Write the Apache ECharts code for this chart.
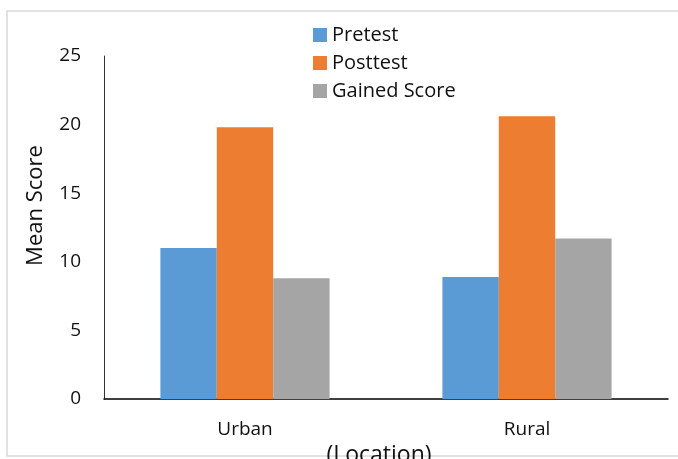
<!DOCTYPE html>
<html lang="en">
  <head>
    <meta charset="UTF-8" />
    <title>Mean Score by Location</title>
    <script src="https://cdn.jsdelivr.net/npm/echarts@6/dist/echarts.min.js"></script>
  </head>
  <body style="margin: 0; background: #fff">
    <div id="container" style="width: 678px; height: 459px"></div>
    <script>
      // data
      const locations = ["Urban", "Rural"];
      const pretest = [11.0, 8.9];
      const posttest = [19.8, 20.6];
      const gained = [8.8, 11.7];
      const yTicks = [0, 5, 10, 15, 20, 25];

      const font = "'Open Sans', 'Liberation Sans', sans-serif";
      let myChart = echarts.init(document.getElementById("container"));

      function bar(name, data, color) {
        return {
          name: name,
          type: "bar",
          data: data,
          barGap: "0%",
          barCategoryGap: "40%",
          itemStyle: { color: color },
          emphasis: { disabled: true }
        };
      }

      let option = {
        animation: false,
        textStyle: { fontFamily: font },
        graphic: [
          {
            type: "rect",
            shape: { x: 7, y: 11, width: 700, height: 445 },
            style: { fill: "none", stroke: "#d9d9d9", lineWidth: 1.5 },
            silent: true
          }
        ],
        legend: {
          orient: "vertical",
          left: 308,
          top: 20,
          itemWidth: 14,
          itemHeight: 14,
          itemGap: 8,
          icon: "rect",
          textStyle: { fontSize: 20, color: "#111", fontFamily: font },
          data: ["Pretest", "Posttest", "Gained Score"]
        },
        grid: {
          left: 104,
          right: 10,
          top: 56,
          bottom: 60,
          containLabel: false,
          outerBoundsMode: "none"
        },
        xAxis: {
          type: "category",
          data: locations,
          name: "(Location)",
          nameLocation: "middle",
          nameGap: 36,
          nameTextStyle: { fontSize: 23, color: "#111", padding: [0, 14, 0, 0] },
          axisLine: { lineStyle: { color: "#000", width: 1.5 } },
          axisTick: { show: false },
          axisLabel: { fontSize: 19, color: "#111", margin: 21 }
        },
        yAxis: {
          type: "value",
          min: yTicks[0],
          max: yTicks[yTicks.length - 1],
          interval: 5,
          name: "Mean Score",
          nameLocation: "middle",
          nameGap: 57,
          nameTextStyle: { fontSize: 22, color: "#111", padding: [0, 0, 0, 44] },
          axisLine: { show: true, lineStyle: { color: "#333", width: 1 } },
          axisTick: { show: false },
          splitLine: { show: false },
          axisLabel: { fontSize: 19, color: "#111", margin: 23 }
        },
        series: [
          bar("Pretest", pretest, "#5B9BD5"),
          bar("Posttest", posttest, "#ED7D31"),
          bar("Gained Score", gained, "#A5A5A5")
        ]
      };
      myChart.setOption(option);
    </script>
  </body>
</html>
